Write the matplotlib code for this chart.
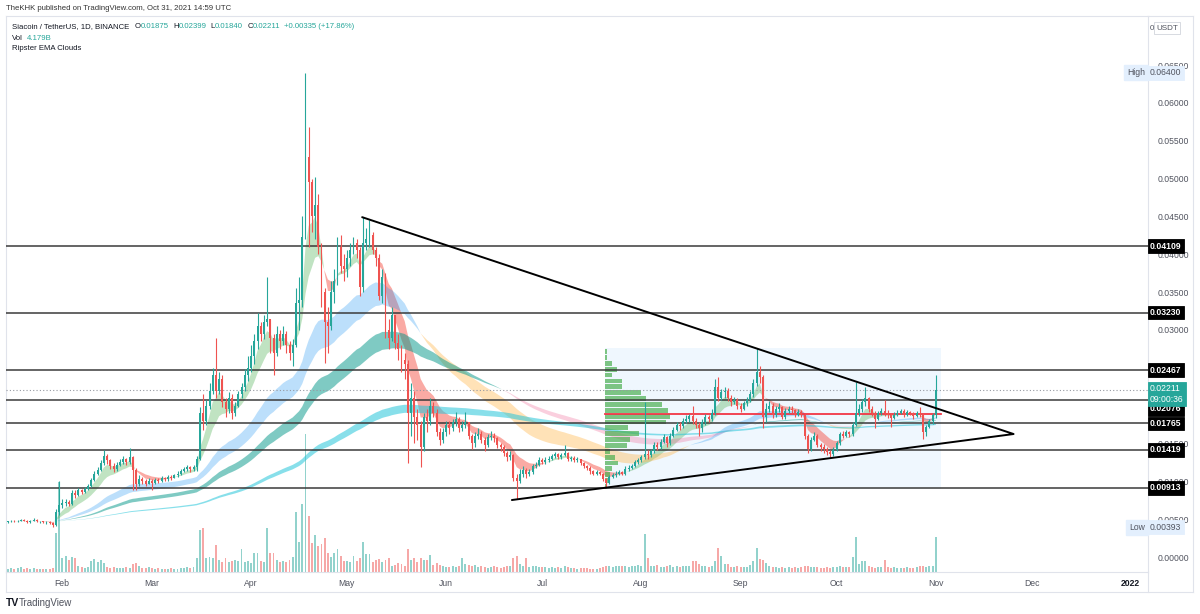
import matplotlib.pyplot as plt
import matplotlib.dates as mdates
import numpy as np
import pandas as pd

plt.rcParams['font.family'] = ['Liberation Sans', 'DejaVu Sans']

# SC/USDT daily candles from Binance, 14 Jan - 31 Oct 2021
# prices in thousandths of a USDT (4.7 -> 0.0047)
start_day = '2021-01-14'
first_open_k = 4.6
close_k = [
    4.7, 4.8, 4.7, 4.8, 4.9, 4.8, 4.6, 4.8, 4.9, 4.7, 4.7, 4.6, 4.6, 4.5, 4.2, 6.0, 6.9, 7.1,  # jan
    7.3, 7.0, 8.5, 8.2, 8.8, 8.6, 9.0, 9.4, 10.2, 11.0, 11.5, 12.4, 13.4, 12.8, 12.0, 11.6, 12.2, 12.6,
    12.9, 12.5, 13.2, 11.5, 9.6, 10.3, 10.0, 9.7, 10.1, 9.8,  # feb
    10.2, 10.1, 10.4, 10.3, 10.6, 10.5, 10.8, 11.0, 11.4, 11.6, 11.9, 11.6, 11.9, 13.0, 19.0, 18.0,
    20.0, 22.0, 24.0, 22.0, 23.5, 20.5, 19.5, 21.0, 19.0, 20.0, 21.5, 22.5, 24.0, 25.0, 26.5,  # mar
    28.5, 30.5, 29.5, 31.0, 31.5, 29.0, 27.0, 29.5, 28.5, 29.5, 28.0, 27.0, 28.0, 33.5, 34.0, 42.3,
    52.8, 49.5, 45.0, 46.5, 41.0, 35.0, 31.0, 30.5, 35.0, 36.5, 41.0, 38.5, 38.0, 39.5,  # apr
    40.5, 41.5, 40.5, 35.7, 41.5, 42.0, 42.5, 40.5, 39.5, 34.5, 37.0, 30.0, 29.0, 32.0, 28.3, 27.5,
    26.0, 25.5, 19.0, 21.0, 18.5, 17.5, 14.5, 18.5, 18.0, 20.0, 19.0, 16.5, 15.5, 16.5, 17.5,  # may
    17.0, 17.8, 18.2, 17.0, 17.5, 17.8, 16.0, 15.0, 16.0, 16.3, 15.5, 14.8, 15.8, 16.0, 15.7, 14.8,
    14.5, 13.8, 13.2, 13.5, 10.5, 10.0, 11.0, 11.5, 11.0, 11.2, 12.0, 12.2, 12.8, 12.6,  # jun
    12.8, 13.0, 13.3, 13.6, 13.2, 13.5, 13.8, 13.0, 13.1, 12.8, 12.9, 12.4, 12.0, 11.8, 11.3, 11.0,
    11.2, 11.0, 10.3, 9.8, 10.6, 10.8, 11.0, 11.2, 11.0, 11.6, 11.8, 12.0, 12.5, 12.8, 13.2,  # jul
    13.6, 13.5, 14.0, 14.8, 14.5, 15.2, 15.8, 15.0, 16.0, 16.8, 17.5, 17.3, 18.0, 18.2, 18.6, 18.0,
    17.4, 17.0, 17.8, 18.5, 18.2, 19.0, 22.5, 21.0, 21.8, 22.0, 21.0, 20.5, 20.8, 20.0, 19.6,  # aug
    20.3, 20.8, 21.5, 23.0, 24.5, 23.8, 18.5, 19.5, 20.0, 18.8, 19.5, 19.8, 18.5, 19.3, 19.6, 19.4,
    18.8, 19.2, 18.8, 16.0, 14.3, 15.5, 16.0, 14.8, 14.5, 14.3, 13.9, 13.6, 14.2, 15.0,  # sep
    16.2, 16.0, 16.5, 16.2, 17.5, 19.0, 19.5, 20.5, 21.0, 19.5, 19.0, 18.3, 19.0, 19.3, 19.0, 18.8,
    18.4, 18.8, 19.0, 19.3, 18.8, 19.1, 19.0, 18.6, 19.0, 18.8, 16.5, 17.2, 18.0, 18.75, 22.11,  # oct
]
high_k = [
    4.8, 4.9, 4.9, 4.9, 5.0, 5.0, 4.9, 4.9, 5.1, 5.0, 4.8, 4.8, 4.7, 4.7, 4.6, 6.3, 10.0, 7.6,
    7.6, 7.5, 8.9, 8.8, 9.1, 9.0, 9.3, 9.7, 10.5, 11.4, 11.9, 12.8, 14.1, 13.6, 13.0, 12.4, 12.5, 13.0,
    13.3, 13.1, 14.4, 13.3, 11.8, 10.8, 10.6, 10.3, 10.4, 10.3,
    10.5, 10.5, 10.7, 10.6, 10.8, 10.9, 11.0, 11.3, 11.6, 11.9, 12.2, 12.0, 12.2, 13.4, 19.8, 21.5,
    20.8, 23.0, 25.0, 29.0, 24.5, 24.0, 21.0, 21.8, 21.5, 20.5, 22.0, 23.0, 24.8, 26.5, 28.0,
    29.5, 32.2, 31.0, 32.0, 37.0, 31.5, 29.5, 30.5, 30.0, 30.5, 29.8, 28.5, 28.8, 35.5, 37.0, 45.0,
    64.0, 56.8, 50.0, 50.2, 48.0, 41.5, 35.5, 33.0, 36.5, 38.0, 42.3, 42.5, 40.0, 40.5,
    41.5, 42.3, 42.0, 41.0, 44.9, 43.5, 44.5, 43.0, 41.0, 40.0, 38.0, 37.5, 31.5, 33.0, 32.0, 29.5,
    28.0, 27.0, 26.0, 23.0, 22.0, 19.5, 18.0, 19.0, 19.5, 21.0, 20.5, 19.5, 17.0, 17.0, 18.0,
    18.0, 18.3, 19.2, 18.5, 18.0, 19.2, 17.9, 16.2, 16.5, 17.0, 16.6, 15.8, 16.2, 16.6, 16.4, 15.9,
    15.0, 14.8, 14.0, 14.0, 13.6, 11.0, 11.6, 12.0, 11.8, 11.6, 12.3, 12.6, 13.2, 13.1,
    13.2, 13.4, 13.6, 13.9, 13.8, 13.8, 14.8, 13.9, 13.4, 13.3, 13.2, 13.0, 12.6, 12.2, 12.0, 11.5,
    11.5, 11.4, 11.1, 10.5, 10.9, 11.1, 11.3, 11.5, 11.4, 12.0, 12.1, 12.3, 12.8, 13.1, 13.5,
    20.5, 14.2, 14.3, 15.2, 15.2, 15.6, 16.2, 16.0, 16.4, 17.2, 17.9, 17.9, 18.4, 18.7, 18.9, 20.0,
    18.4, 17.8, 18.2, 18.9, 18.8, 19.5, 23.5, 23.8, 22.2, 22.4, 22.3, 21.4, 21.2, 21.0, 20.4,
    20.6, 21.2, 21.9, 23.5, 27.6, 25.2, 24.0, 20.3, 20.6, 20.4, 19.9, 20.3, 20.0, 19.7, 20.0, 19.9,
    19.6, 19.5, 19.4, 18.9, 16.3, 15.9, 16.5, 16.2, 15.0, 14.9, 14.6, 14.2, 14.5, 15.3,
    16.5, 16.6, 16.8, 16.7, 17.8, 23.1, 20.2, 20.9, 22.5, 21.2, 19.9, 19.3, 19.3, 19.7, 20.8, 19.4,
    19.0, 19.2, 19.4, 19.6, 19.5, 19.4, 19.3, 19.2, 19.3, 19.8, 19.0, 17.5, 18.3, 19.0, 23.99,
]
low_k = [
    4.5, 4.6, 4.6, 4.6, 4.7, 4.7, 4.5, 4.5, 4.7, 4.6, 4.5, 4.5, 4.4, 4.3, 3.93, 4.1, 5.6, 6.5,
    6.8, 6.7, 6.9, 7.8, 8.0, 8.3, 8.4, 8.8, 9.2, 10.0, 10.8, 11.3, 12.2, 12.3, 11.6, 11.2, 11.4, 12.0,
    12.3, 12.2, 12.3, 8.9, 8.8, 9.4, 9.6, 9.4, 9.6, 8.9,
    9.6, 9.8, 9.9, 10.0, 10.1, 10.2, 10.4, 10.6, 10.8, 11.2, 11.4, 11.2, 11.4, 11.4, 12.8, 16.8,
    17.5, 19.5, 21.5, 21.0, 21.5, 19.8, 18.5, 19.0, 18.3, 18.6, 19.8, 21.0, 22.0, 23.2, 24.5,
    25.5, 27.5, 28.5, 28.8, 30.5, 27.0, 24.0, 26.5, 27.5, 28.0, 27.0, 26.0, 25.3, 27.8, 30.0, 33.0,
    42.0, 41.0, 43.0, 42.0, 40.0, 33.0, 25.6, 27.0, 30.0, 33.5, 36.0, 37.5, 36.5, 37.0,
    38.5, 40.0, 39.5, 34.5, 35.0, 40.5, 41.0, 40.0, 38.5, 34.0, 33.5, 29.0, 27.5, 28.5, 27.5, 26.0,
    24.5, 23.5, 12.4, 16.0, 15.0, 15.5, 11.9, 14.0, 16.5, 17.5, 18.5, 16.0, 14.8, 15.0, 16.0,
    16.3, 16.6, 17.3, 16.5, 16.6, 17.0, 15.6, 14.3, 14.6, 15.6, 15.0, 14.0, 14.6, 15.5, 15.2, 14.4,
    14.0, 13.3, 12.7, 12.8, 10.0, 7.6, 9.8, 10.6, 10.5, 10.7, 11.0, 11.7, 12.0, 12.3,
    12.3, 12.5, 12.8, 13.1, 12.9, 13.0, 13.3, 12.7, 12.7, 12.5, 12.5, 12.1, 11.8, 11.5, 11.0, 10.8,
    10.8, 10.8, 10.0, 9.2, 9.6, 10.4, 10.6, 10.8, 10.8, 10.9, 11.3, 11.6, 11.9, 12.3, 12.6,
    12.9, 13.0, 13.2, 13.8, 14.1, 14.3, 15.0, 14.6, 14.8, 15.8, 16.6, 16.8, 17.0, 17.7, 17.9, 17.6,
    17.0, 16.0, 16.5, 17.5, 17.8, 18.0, 18.8, 20.6, 20.8, 21.0, 20.6, 20.0, 20.2, 19.6, 19.2,
    19.4, 20.0, 20.5, 21.2, 22.6, 23.0, 17.0, 17.8, 19.2, 18.4, 18.5, 19.2, 18.2, 18.3, 19.0, 19.0,
    18.5, 18.6, 18.5, 15.6, 13.8, 14.0, 15.3, 14.5, 14.0, 13.8, 13.5, 13.2, 13.4, 14.0,
    14.8, 15.7, 15.8, 15.9, 16.0, 17.3, 18.6, 19.2, 20.0, 19.2, 18.6, 17.0, 18.1, 18.7, 18.6, 18.4,
    17.2, 18.2, 18.6, 18.9, 18.5, 18.6, 18.7, 18.3, 18.5, 18.5, 15.6, 16.0, 17.0, 17.6, 18.40,
]
# daily volume, billions of SC
volume_b = [
    0.4, 0.5, 0.4, 0.5, 0.6, 0.4, 0.5, 0.4, 0.5, 0.4, 0.4, 0.3, 0.4, 0.4, 0.5, 4.7, 10.8, 1.7,
    1.9, 1.4, 1.8, 1.7, 0.7, 0.6, 0.5, 0.6, 1.3, 1.6, 1.2, 1.4, 1.1, 0.6, 0.5, 0.6, 0.5, 0.5,
    0.5, 0.6, 0.5, 1.0, 1.1, 0.7, 0.5, 0.5, 0.6, 0.5,
    0.4, 0.5, 0.4, 0.4, 0.4, 0.5, 0.4, 0.4, 0.5, 0.5, 0.6, 0.5, 0.6, 1.7, 5.0, 5.3,
    1.7, 1.8, 1.7, 3.2, 1.4, 1.2, 1.7, 1.2, 1.3, 1.4, 1.3, 2.8, 1.2, 1.3, 1.1,
    2.3, 2.3, 1.3, 1.2, 5.3, 2.3, 2.3, 1.4, 1.2, 1.3, 1.2, 1.4, 1.8, 7.2, 3.6, 8.2,
    16.6, 6.7, 3.5, 4.4, 3.1, 3.4, 4.1, 2.3, 1.8, 2.3, 2.8, 1.9, 1.3, 1.3,
    1.2, 1.9, 1.3, 1.7, 3.6, 2.2, 2.2, 1.2, 1.4, 1.6, 1.2, 1.4, 1.7, 0.7, 0.8, 1.1,
    1.0, 0.7, 2.8, 1.4, 1.7, 1.2, 1.7, 1.4, 1.4, 2.0, 0.8, 1.1, 0.8, 0.7, 0.6,
    0.6, 0.7, 0.6, 0.7, 1.7, 1.0, 0.8, 0.7, 0.8, 0.6, 0.7, 0.6, 0.5, 0.6, 0.7, 0.6,
    0.5, 0.6, 0.7, 0.7, 1.7, 1.9, 1.0, 0.7, 1.7, 0.6, 0.7, 0.7, 0.6, 0.6,
    0.6, 0.5, 0.6, 0.5, 0.6, 0.5, 0.7, 0.6, 0.5, 0.5, 0.4, 0.5, 0.5, 0.5, 0.4, 0.4,
    0.4, 0.5, 0.6, 0.7, 0.7, 0.6, 0.7, 0.7, 0.7, 0.7, 0.6, 0.7, 0.7, 0.8, 0.7,
    4.6, 1.7, 0.7, 0.7, 0.8, 0.6, 0.6, 0.7, 0.8, 0.6, 0.7, 0.6, 0.7, 0.7, 0.7, 1.3,
    1.3, 1.0, 0.7, 0.7, 0.6, 0.7, 1.3, 2.9, 1.9, 1.0, 1.0, 0.6, 0.6, 0.7, 0.6,
    0.6, 0.6, 0.8, 1.3, 2.9, 1.6, 1.4, 1.1, 0.7, 0.6, 0.6, 0.5, 0.6, 0.5, 0.6, 0.5,
    0.6, 0.5, 0.6, 0.7, 0.7, 0.6, 0.6, 0.6, 0.5, 0.5, 0.6, 0.5, 0.6, 0.6,
    0.7, 0.6, 0.6, 0.6, 1.8, 4.2, 1.0, 1.3, 1.3, 0.7, 0.6, 0.5, 0.6, 0.6, 1.4, 0.6,
    0.5, 0.6, 0.5, 0.5, 0.5, 0.6, 0.5, 0.5, 0.6, 0.7, 0.7, 0.6, 0.7, 0.7, 4.179,
]

# horizontal levels drawn on the chart
levels = [0.04109, 0.03230, 0.02467, 0.02076, 0.01765, 0.01419, 0.00913]

# symmetrical triangle: upper start, apex, lower start
tri_times = ['2021-05-04 17:00', '2021-11-24 07:00', '2021-06-20 12:00']
tri_prices = [0.0449, 0.01625, 0.00753]

# fixed range volume profile (24 rows, bottom -> top)
vp_from, vp_to = '2021-07-20', '2021-10-31'
vp_low, vp_high = 0.0090, 0.0276
vp_rows = [2, 3, 5, 7, 13, 10, 5, 22, 25, 35, 23, 62, 66, 64, 58, 42, 37, 17, 17, 7, 12, 7, 2, 2]
poc_price = 0.0189

month_ticks = ['2021-02-01', '2021-03-01', '2021-04-01', '2021-05-01', '2021-06-01', '2021-07-01',
               '2021-08-01', '2021-09-01', '2021-10-01', '2021-11-01', '2021-12-01', '2022-01-01']
month_labels = ['Feb', 'Mar', 'Apr', 'May', 'Jun', 'Jul', 'Aug', 'Sep', 'Oct', 'Nov', 'Dec', '2022']

# ---------------------------------------------------------------------
W, H = 1200, 614
UP, DOWN = '#26a69a', '#ef5350'
GRID = '#e0e3eb'
FS = 5.6

dates = pd.date_range(start_day, periods=len(close_k), freq='D')
x = mdates.date2num(dates)
c = np.array(close_k) / 1000
h = np.array(high_k) / 1000
l = np.array(low_k) / 1000
o = np.concatenate([[first_open_k / 1000], c[:-1]])
up = c >= o

fig = plt.figure(figsize=(W / 100, H / 100), dpi=100)
rect = [6 / W, (H - 572) / H, (1148 - 6) / W, (572 - 16) / H]
feb1 = mdates.date2num(pd.Timestamp('2021-02-01'))
xlim = (feb1 - 18.6, feb1 + 338.3)

# volume pane shares the main rect, behind the price axes
vax = fig.add_axes(rect, zorder=0)
vax.bar(x, volume_b, width=0.62, color=np.where(up, UP, DOWN), alpha=0.5, linewidth=0)
vax.set_xlim(xlim)
vax.set_ylim(0, 66.7)
vax.axis('off')

ax = fig.add_axes(rect, zorder=1)
ax.patch.set_visible(False)
ax.set_xlim(xlim)
ax.set_ylim(-0.00198, 0.07148)

# Ripster EMA clouds
s = pd.Series(c)
clouds = [
    (5, 12, '#4caf50', 0.35, '#f44336', 0.45),
    (34, 50, '#2196f3', 0.30, '#ffb74d', 0.40),
    (72, 89, '#009688', 0.50, '#f06292', 0.30),
    (180, 200, '#26c6da', 0.55, '#7e57c2', 0.30),
]
for fast, slow, cbull, abull, cbear, abear in clouds:
    ef = s.ewm(span=fast, adjust=False).mean().values
    es = s.ewm(span=slow, adjust=False).mean().values
    ax.fill_between(x, ef, es, where=ef >= es, interpolate=True, color=cbull, alpha=abull,
                    linewidth=0, zorder=2)
    ax.fill_between(x, ef, es, where=ef < es, interpolate=True, color=cbear, alpha=abear,
                    linewidth=0, zorder=2)

# volume profile box and rows
vx0 = mdates.date2num(pd.Timestamp(vp_from)) - 0.5
vx1 = mdates.date2num(pd.Timestamp(vp_to)) + 1.5
ax.add_patch(plt.Rectangle((vx0, vp_low), vx1 - vx0, vp_high - vp_low, facecolor='#2196f3',
                           alpha=0.07, linewidth=0, zorder=1))
row_h = (vp_high - vp_low) / len(vp_rows)
row_y = vp_low + row_h * np.arange(len(vp_rows))
vp = np.array(vp_rows, dtype=float)
ax.barh(row_y, vp / vp.max() * 20.5, height=row_h * 0.82, left=vx0, align='edge',
        color='#4caf50', alpha=0.7, linewidth=0, zorder=3)
ax.plot([vx0, vx1], [poc_price, poc_price], color='#f23645', lw=1.3, zorder=5)

# horizontal levels and last price
for lv in levels:
    ax.axhline(lv, color='#3a3a3a', lw=1.1, zorder=4)
ax.axhline(c[-1], color='#9598a1', lw=0.8, ls=(0, (1, 2)), zorder=4)

# candles
col = np.where(up, UP, DOWN)
ax.vlines(x, l, h, colors=col, lw=0.8, zorder=6)
body = np.maximum(np.abs(c - o), 0.00008)
ax.bar(x, body, bottom=np.minimum(o, c), width=0.62, color=col, linewidth=0, zorder=6)

# triangle
tt = mdates.date2num(pd.to_datetime(tri_times))
ax.plot([tt[0], tt[1], tt[2]], [tri_prices[0], tri_prices[1], tri_prices[2]],
        color='black', lw=1.4, zorder=7, solid_capstyle='round')

# axes styling; ticks fully hidden behind level tags in the original are left blank
for sp in ax.spines.values():
    sp.set_color(GRID)
ax.yaxis.tick_right()
yt = np.arange(0, 0.0651, 0.005)
ax.set_yticks(yt)
ax.set_yticklabels(['' if any(abs(v - lv) < 0.00078 for lv in levels) else f'{v:.5f}' for v in yt])
# TradingView centres month names a touch left of the first bar
ax.set_xticks(mdates.date2num(pd.to_datetime(month_ticks)) - 1.1)
ax.set_xticklabels(month_labels)
ax.tick_params(axis='both', length=0, labelsize=6.2, colors='#50535e')
ax.tick_params(axis='y', pad=7)
ax.tick_params(axis='x', pad=5)
lab = ax.get_xticklabels()[-1]
lab.set_color('#131722')
lab.set_fontweight('bold')


def price_tag(price, text, fc, tc='white', dy=0, bold=True, ec=None):
    ax.annotate(text, xy=(1, price), xycoords=('axes fraction', 'data'), xytext=(1.5, dy),
                textcoords='offset points', ha='left', va='center', fontsize=6.2, color=tc,
                fontweight='bold' if bold else 'normal', zorder=10, annotation_clip=False,
                bbox=dict(boxstyle='square,pad=0.28', fc=fc, ec=ec or fc, lw=0.6))


for lv in levels:
    price_tag(lv, f'{lv:.5f}', 'black', dy=-6.5 if lv == 0.02076 else 0)
price_tag(c[-1] - 0.00055, f'{c[-1]:.5f}\n09:00:36', UP, bold=False)

# High / Low markers
for val, name in [(h.max(), 'High'), (l.min(), 'Low')]:
    price_tag(val, f'{val:.5f}', '#e3effd', tc='#50535e', bold=False)
    ax.annotate(name, xy=(1, val), xycoords=('axes fraction', 'data'), xytext=(-2, 0),
                textcoords='offset points', ha='right', va='center', fontsize=6.2, color='#50535e',
                annotation_clip=False, zorder=10,
                bbox=dict(boxstyle='square,pad=0.35', fc='#e3effd', ec='#e3effd'))

# outer frame of the chart panel
def fig_line(x0, y0, x1, y1):
    fig.add_artist(plt.Line2D([x0 / W, x1 / W], [1 - y0 / H, 1 - y1 / H], color=GRID, lw=0.8))


fig_line(1193, 16, 1193, 592)
fig_line(6, 592, 1193, 592)
fig_line(1148, 16, 1193, 16)
fig_line(6, 572, 6, 592)
fig_line(1148, 572, 1148, 592)

# header texts
fig.text(6 / W, 1 - 8 / H, 'TheKHK published on TradingView.com, Oct 31, 2021 14:59 UTC',
         fontsize=FS, color='#333333', va='center')
t = ax.annotate('Siacoin / TetherUS, 1D, BINANCE', xy=(12, H - 27), xycoords='figure pixels',
                va='center', fontsize=FS, color='#131722', annotation_clip=False)
pieces = [('O', '#131722', 4), ('0.01875', UP, 0), ('H', '#131722', 3), ('0.02399', UP, 0),
          ('L', '#131722', 3), ('0.01840', UP, 0), ('C', '#131722', 3), ('0.02211', UP, 0),
          ('+0.00335 (+17.86%)', UP, 3)]
for txt, colr, gap in pieces:
    t = ax.annotate(txt, xy=(1, 0), xycoords=t, xytext=(gap, 0), textcoords='offset points',
                    va='bottom', fontsize=FS, color=colr, annotation_clip=False)
t = ax.annotate('Vol', xy=(12, H - 38), xycoords='figure pixels', va='center', fontsize=FS,
                color='#131722', annotation_clip=False)
ax.annotate('4.179B', xy=(1, 0), xycoords=t, xytext=(3, 0), textcoords='offset points',
            va='bottom', fontsize=FS, color=UP, annotation_clip=False)
ax.annotate('Ripster EMA Clouds', xy=(12, H - 49), xycoords='figure pixels', va='center',
            fontsize=FS, color='#131722', annotation_clip=False)

fig.text(1156 / W, 1 - 28 / H, 'USDT', fontsize=5.8, color='#50535e', va='center',
         bbox=dict(boxstyle='square,pad=0.3', fc='white', ec='#d1d4dc', lw=0.6))
fig.text(1150 / W, 1 - 28 / H, '0', fontsize=5.8, color='#50535e', va='center')

# TradingView mark
fig.text(6 / W, 1 - 603 / H, 'TV', fontsize=7.5, fontweight='bold', color='#131722', va='center')
fig.text(19 / W, 1 - 603 / H, 'TradingView', fontsize=7, color='#50535e', va='center')

fig.savefig('out.png', dpi=100, facecolor='white')
